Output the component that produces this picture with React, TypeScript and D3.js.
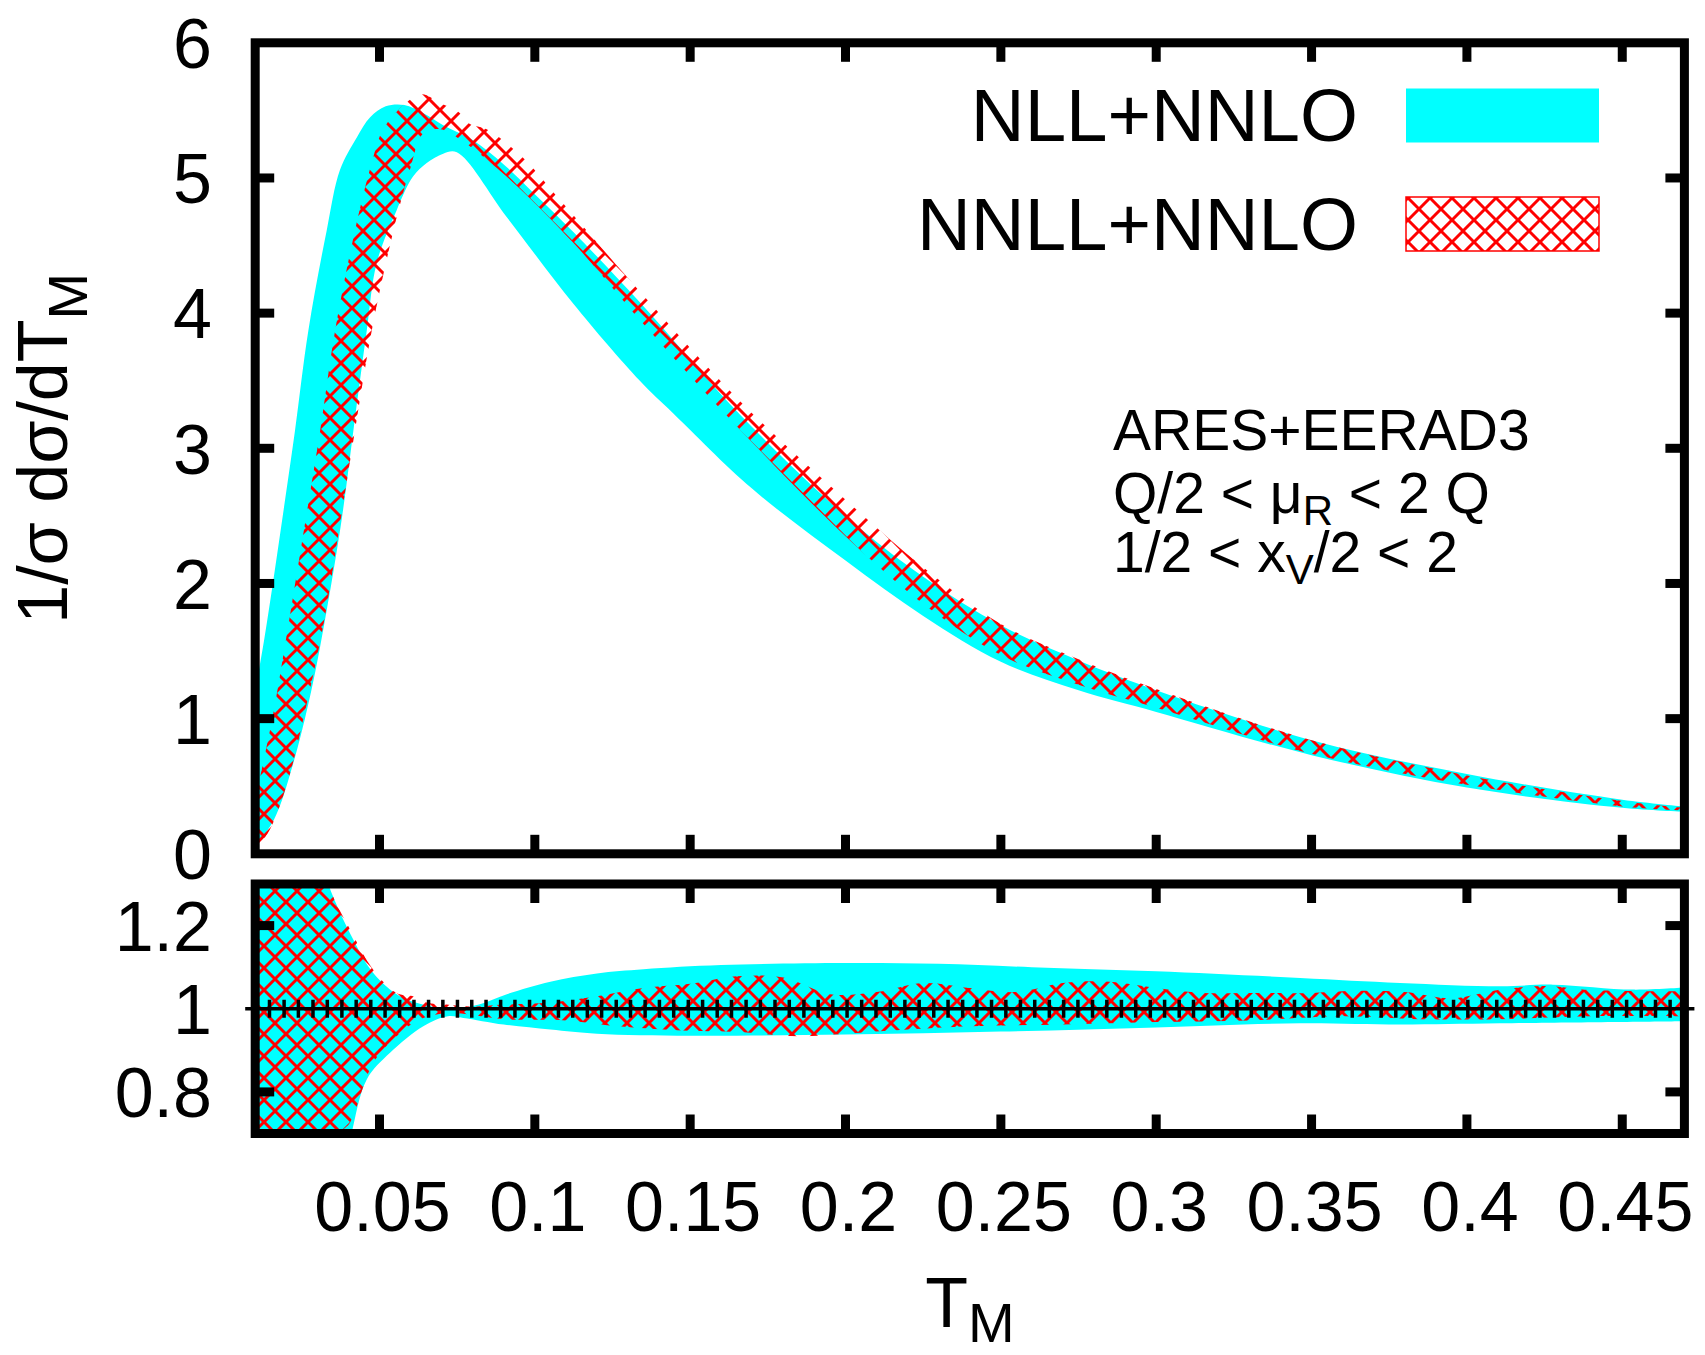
import React from "react";
import * as d3 from "d3";

type Pt = [number, number];

// x ticks shared by both panels
const xTicks = [0.05, 0.1, 0.15, 0.2, 0.25, 0.3, 0.35, 0.4, 0.45];
const xTickLabels = ["0.05", "0.1", "0.15", "0.2", "0.25", "0.3", "0.35", "0.4", "0.45"];
const yTopTicks = [0, 1, 2, 3, 4, 5, 6];
const yRatioTicks = [0.8, 1, 1.2];
const yRatioLabels = ["0.8", "1", "1.2"];

// NLL+NNLO band, top panel (upper edge left->right, then lower edge right->left)
const nllUpper: Pt[] = [
  [0.01, 1.2], [0.013, 1.6], [0.016, 2.05], [0.0195, 2.6], [0.0228, 3.13],
  [0.0271, 3.87], [0.033, 4.61], [0.0373, 5.06], [0.0427, 5.3], [0.047, 5.45],
  [0.052, 5.53], [0.058, 5.54], [0.064, 5.48], [0.0705, 5.39], [0.08, 5.28],
  [0.09, 5.1], [0.1, 4.88], [0.1124, 4.6], [0.1338, 4.08], [0.166, 3.25],
  [0.2, 2.5], [0.225, 2.05], [0.25, 1.69], [0.275, 1.43], [0.3, 1.21],
  [0.35, 0.84], [0.4, 0.59], [0.45, 0.4], [0.47, 0.35],
];
const nllLower: Pt[] = [
  [0.47, 0.31], [0.45, 0.34], [0.4, 0.49], [0.35, 0.73], [0.3, 1.05],
  [0.275, 1.21], [0.25, 1.42], [0.225, 1.76], [0.2, 2.17], [0.17, 2.7],
  [0.1445, 3.26], [0.1338, 3.5], [0.1124, 4.07], [0.091, 4.71], [0.0749, 5.19],
  [0.0705, 5.18], [0.0652, 5.11], [0.0608, 5.01], [0.0555, 4.76], [0.0491, 4.37],
  [0.0459, 3.87], [0.0416, 3.13], [0.038, 2.5], [0.033, 1.8], [0.028, 1.2],
  [0.022, 0.65], [0.016, 0.25], [0.01, 0.05],
];

// NNLL+NNLO band, top panel
const nnllUpper: Pt[] = [
  [0.01, 0.4], [0.0155, 1.0], [0.02, 1.6], [0.025, 2.3], [0.0309, 3.13],
  [0.0357, 3.87], [0.0421, 4.61], [0.0475, 5.11], [0.0512, 5.36], [0.0588, 5.56],
  [0.0636, 5.62], [0.07, 5.55], [0.0749, 5.5], [0.0791, 5.4], [0.0845, 5.36],
  [0.0962, 5.15], [0.108, 4.84], [0.1338, 4.16], [0.166, 3.35], [0.2, 2.62],
  [0.225, 2.12], [0.25, 1.7], [0.275, 1.44], [0.3, 1.22], [0.35, 0.84],
  [0.4, 0.58], [0.45, 0.39], [0.47, 0.34],
];
const nnllLower: Pt[] = [
  [0.47, 0.32], [0.45, 0.35], [0.4, 0.51], [0.35, 0.74], [0.3, 1.08],
  [0.275, 1.25], [0.25, 1.47], [0.225, 1.85], [0.2, 2.35], [0.166, 3.14],
  [0.1338, 3.95], [0.1124, 4.52], [0.09, 5.03], [0.075, 5.3], [0.0695, 5.36],
  [0.0641, 5.33], [0.0598, 5.06], [0.0545, 4.61], [0.0475, 3.87], [0.0421, 3.13],
  [0.037, 2.4], [0.032, 1.7], [0.026, 1.05], [0.02, 0.5], [0.014, 0.15],
  [0.01, 0.05],
];

// ratio panel, NLL+NNLO band
const nllRatioUpper: Pt[] = [
  [0.01, 1.4], [0.03, 1.4], [0.0335, 1.3], [0.0416, 1.166], [0.048, 1.086],
  [0.0566, 1.03], [0.0652, 1.008], [0.074, 1.0], [0.082, 1.01], [0.091, 1.035],
  [0.105, 1.065], [0.12, 1.085], [0.135, 1.095], [0.16, 1.105], [0.2, 1.11],
  [0.23, 1.108], [0.26, 1.1], [0.3, 1.09], [0.3463, 1.074], [0.3785, 1.062],
  [0.4106, 1.054], [0.4277, 1.058], [0.4535, 1.046], [0.47, 1.051],
];
const nllRatioLower: Pt[] = [
  [0.47, 0.97], [0.4106, 0.965], [0.3785, 0.962], [0.3463, 0.965], [0.3, 0.955],
  [0.25, 0.945], [0.2, 0.938], [0.15, 0.935], [0.12, 0.94], [0.105, 0.95],
  [0.09, 0.962], [0.077, 0.978], [0.072, 0.982], [0.0641, 0.958], [0.0534, 0.894],
  [0.0459, 0.83], [0.041, 0.7], [0.038, 0.6], [0.01, 0.6],
];

// ratio panel, NNLL+NNLO band
const nnllRatioUpper: Pt[] = [
  [0.01, 1.4], [0.031, 1.4], [0.0342, 1.287], [0.0406, 1.19], [0.048, 1.094],
  [0.0555, 1.038], [0.0608, 1.03], [0.0652, 1.015], [0.0716, 1.01], [0.08, 1.005],
  [0.09, 1.01], [0.105, 1.015], [0.12, 1.03], [0.135, 1.05], [0.15, 1.06],
  [0.165, 1.078], [0.18, 1.075], [0.195, 1.035], [0.21, 1.04], [0.225, 1.062],
  [0.24, 1.05], [0.255, 1.04], [0.27, 1.062], [0.285, 1.065], [0.3, 1.05],
  [0.315, 1.038], [0.33, 1.038], [0.35, 1.038], [0.365, 1.043], [0.38, 1.04],
  [0.395, 1.025], [0.41, 1.045], [0.425, 1.055], [0.44, 1.045], [0.47, 1.042],
];
const nnllRatioLower: Pt[] = [
  [0.47, 0.982], [0.44, 0.982], [0.41, 0.975], [0.385, 0.975], [0.36, 0.982],
  [0.33, 0.972], [0.3, 0.968], [0.27, 0.962], [0.24, 0.958], [0.22, 0.95],
  [0.2, 0.94], [0.185, 0.934], [0.165, 0.944], [0.15, 0.947], [0.127, 0.958],
  [0.11, 0.972], [0.09, 0.975], [0.08, 0.985], [0.0716, 0.99], [0.063, 0.974],
  [0.0555, 0.934], [0.048, 0.87], [0.0406, 0.727], [0.0374, 0.7], [0.035, 0.6],
  [0.01, 0.6],
];

// central NNLL+NNLO points in the ratio (all at 1)
const centralRatio = 1;
const centralX = [
  0.01, 0.0146, 0.0193, 0.0239, 0.0286, 0.0332, 0.0379, 0.0425, 0.0472, 0.0518,
  0.0565, 0.0611, 0.0658, 0.0704, 0.0751, 0.0797, 0.0843, 0.089, 0.0936, 0.0983,
  0.1029, 0.1076, 0.1122, 0.1169, 0.1215, 0.1262, 0.1308, 0.1355, 0.1401, 0.1447,
  0.1494, 0.154, 0.1587, 0.1633, 0.168, 0.1726, 0.1773, 0.1819, 0.1866, 0.1912,
  0.1959, 0.2005, 0.2052, 0.2098, 0.2144, 0.2191, 0.2237, 0.2284, 0.233, 0.2377,
  0.2423, 0.247, 0.2516, 0.2563, 0.2609, 0.2656, 0.2702, 0.2748, 0.2795, 0.2841,
  0.2888, 0.2934, 0.2981, 0.3027, 0.3074, 0.312, 0.3167, 0.3213, 0.326, 0.3306,
  0.3353, 0.3399, 0.3445, 0.3492, 0.3538, 0.3585, 0.3631, 0.3678, 0.3724, 0.3771,
  0.3817, 0.3864, 0.391, 0.3957, 0.4003, 0.4049, 0.4096, 0.4142, 0.4189, 0.4235,
  0.4282, 0.4328, 0.4375, 0.4421, 0.4468, 0.4514, 0.4561, 0.4607, 0.4654, 0.47,
];

const W = 1705;
const H = 1355;
const FONT = "'Liberation Sans', Arial, Helvetica, sans-serif";
const CYAN = "#00ffff";
const RED = "#ff0000";
const FRAME = 9;
const TICK = 19;
const HATCH = 22;

const x = d3.scaleLinear().domain([0.01, 0.47]).range([255.2, 1684.4]);
const yTop = d3.scaleLinear().domain([0, 6]).range([853.8, 42.8]);
const yRat = d3.scaleLinear().domain([0.7, 1.3]).range([1133.5, 884]);

// closed band: smooth upper edge, then smooth lower edge back
function bandPath(upper: Pt[], lower: Pt[], y: d3.ScaleLinear<number, number>) {
  const line = d3
    .line<Pt>()
    .x((d) => x(d[0]))
    .y((d) => y(d[1]))
    .curve(d3.curveCatmullRom.alpha(0.5));
  const a = line(upper) as string;
  const b = line(lower) as string;
  return a + "L" + b.slice(1) + "Z";
}

function Frame({ y, yTicks }: { y: d3.ScaleLinear<number, number>; yTicks: number[] }) {
  const [x0, x1] = x.range();
  const [yb, yt] = y.range();
  return (
    <g>
      {xTicks.map((t) => (
        <g key={"x" + t} stroke="#000" strokeWidth={FRAME}>
          <line x1={x(t)} x2={x(t)} y1={yb} y2={yb - TICK} />
          <line x1={x(t)} x2={x(t)} y1={yt} y2={yt + TICK} />
        </g>
      ))}
      {yTicks.map((t) => (
        <g key={"y" + t} stroke="#000" strokeWidth={FRAME}>
          <line x1={x0} x2={x0 + TICK} y1={y(t)} y2={y(t)} />
          <line x1={x1} x2={x1 - TICK} y1={y(t)} y2={y(t)} />
        </g>
      ))}
      <rect x={x0} y={yt} width={x1 - x0} height={yb - yt} fill="none" stroke="#000" strokeWidth={FRAME} />
    </g>
  );
}

export default function App() {
  const [x0, x1] = x.range();
  const h = HATCH;
  const hatchD = `M0,0L${h},${h}M-4,${h - 4}L4,${h + 4}M${h - 4},-4L${h + 4},4M0,${h}L${h},0M-4,4L4,-4M${h - 4},${h + 4}L${h + 4},${h - 4}`;
  const plusPath = centralX
    .map((v) => {
      const px = x(v);
      const py = yRat(centralRatio);
      return `M${px - 10},${py}H${px + 10}M${px},${py - 9}V${py + 9}`;
    })
    .join("");

  return (
    <svg
      width={W}
      height={H}
      viewBox={`0 0 ${W} ${H}`}
      style={{ position: "absolute", left: 0, top: 0, background: "#fff" }}
      fontFamily={FONT}
    >
      <defs>
        <pattern id="xhatch" patternUnits="userSpaceOnUse" width={h} height={h}>
          <path d={hatchD} stroke={RED} strokeWidth={3} fill="none" />
        </pattern>
        <clipPath id="clipTop">
          <rect x={x0} y={yTop(6)} width={x1 - x0} height={yTop(0) - yTop(6)} />
        </clipPath>
        <clipPath id="clipRat">
          <rect x={x0} y={yRat(1.3)} width={x1 - x0} height={yRat(0.7) - yRat(1.3)} />
        </clipPath>
      </defs>

      <rect width={W} height={H} fill="#fff" />

      {/* top panel */}
      <g clipPath="url(#clipTop)">
        <path d={bandPath(nllUpper, nllLower, yTop)} fill={CYAN} />
        <path d={bandPath(nnllUpper, nnllLower, yTop)} fill="url(#xhatch)" />
      </g>
      <Frame y={yTop} yTicks={[1, 2, 3, 4, 5]} />

      {/* ratio panel */}
      <g clipPath="url(#clipRat)">
        <path d={bandPath(nllRatioUpper, nllRatioLower, yRat)} fill={CYAN} />
        <path d={bandPath(nnllRatioUpper, nnllRatioLower, yRat)} fill="url(#xhatch)" />
      </g>
      <Frame y={yRat} yTicks={[0.8, 1.2]} />
      <path d={plusPath} stroke="#000" strokeWidth={3.5} fill="none" />

      {/* tick labels */}
      <g fontSize={70} fill="#000" textAnchor="end">
        {yTopTicks.map((t) => (
          <text key={t} x={212} y={yTop(t)} dy="0.36em">
            {t}
          </text>
        ))}
        {yRatioTicks.map((t, i) => (
          <text key={t} x={212} y={yRat(t)} dy="0.36em">
            {yRatioLabels[i]}
          </text>
        ))}
      </g>
      <g fontSize={70} fill="#000" textAnchor="middle">
        {xTicks.map((t, i) => (
          <text key={t} x={x(t) + 3} y={1231}>
            {xTickLabels[i]}
          </text>
        ))}
      </g>

      {/* axis titles */}
      <text x={970} y={1327} fontSize={70} textAnchor="middle">
        T
        <tspan fontSize={56} dy={15}>
          M
        </tspan>
      </text>
      <text
        transform={`translate(67,${(yTop(0) + yTop(6)) / 2}) rotate(-90)`}
        fontSize={70}
        textAnchor="middle"
      >
        1/σ dσ/dT
        <tspan fontSize={56} dy={20}>
          M
        </tspan>
      </text>

      {/* legend */}
      <g fontSize={74.5} textAnchor="end">
        <text x={1358} y={141}>NLL+NNLO</text>
        <text x={1358} y={250}>NNLL+NNLO</text>
      </g>
      <rect x={1406} y={88.5} width={193} height={54} fill={CYAN} />
      <rect x={1406} y={197} width={193} height={54} fill="url(#xhatch)" stroke={RED} strokeWidth={1.5} />

      {/* annotation */}
      <g fontSize={57}>
        <text x={1113} y={450}>ARES+EERAD3</text>
        <text x={1113} y={513}>
          Q/2 &lt; μ
          <tspan fontSize={42} dy={12}>R</tspan>
          <tspan dy={-12}> &lt; 2 Q</tspan>
        </text>
        <text x={1113} y={572}>
          1/2 &lt; x
          <tspan fontSize={42} dy={12}>V</tspan>
          <tspan dy={-12}>/2 &lt; 2</tspan>
        </text>
      </g>
    </svg>
  );
}
